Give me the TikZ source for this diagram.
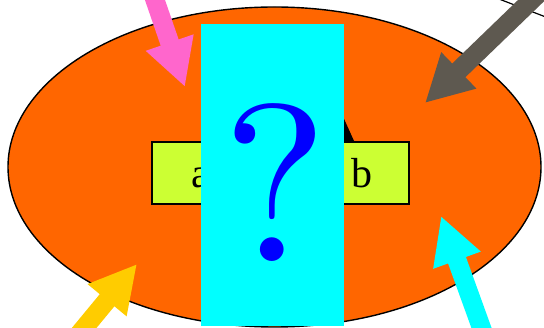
\documentclass[tikz,border=0pt]{standalone}
\usepackage{fontspec}
\setmainfont{Liberation Serif}
\newfontfamily\lmfont{lmroman10-regular}[Extension=.otf]
\usepackage{tikz}
\usepackage{xcolor}
\usetikzlibrary{arrows.meta, positioning, shapes.geometric}
\definecolor{blobfill}{HTML}{FF6600}
\definecolor{pairfill}{HTML}{CCFF33}
\definecolor{mysteryfill}{HTML}{00FFFF}
\definecolor{qmark}{HTML}{0000FF}
\definecolor{pinkin}{HTML}{FF66CC}
\definecolor{greyin}{HTML}{5E5950}
\definecolor{goldin}{HTML}{FFCC00}
\tikzset{
  blob/.style={
    ellipse, fill=blobfill, draw=black, line width=1.4pt,
    minimum width=533pt, minimum height=320pt, inner sep=0pt
  },
  pairbox/.style={
    rectangle, fill=pairfill, draw=black, line width=1.4pt,
    minimum width=257pt, minimum height=62pt, inner sep=0pt
  },
  mystery/.style={
    rectangle, fill=mysteryfill, minimum width=143pt, minimum height=302pt,
    inner sep=0pt
  },
  letter/.style={font=\fontsize{42}{42}\selectfont, inner sep=0pt, anchor=base},
  fatarrow/.style={line width=19pt, color=#1,
    -{Triangle[length=47pt, width=47pt]}}
}

\begin{document}
\begin{tikzpicture}[x=1pt, y=-1pt]
    \useasboundingbox (0,0) rectangle (544,328);
    \clip (0,0) rectangle (544,328);

    % Ellipse and its thin neighbour line
    \node[blob] (body) at (274.5,167) {};
    \coordinate (wireA) at (460,-16);
    \coordinate (wireB) at (590,34);
    \draw[line width=1.2pt] (wireA) -- (wireB);

    % Incoming arrows
    \coordinate (pinkS) at (136,-55);
    \coordinate (pinkT) at (185,87);
    \coordinate (greyS) at (569,-36);
    \coordinate (greyT) at (425,103);
    \coordinate (goldS) at (61,356);
    \coordinate (goldT) at (137,264);
    \coordinate (cyanS) at (492,357);
    \coordinate (cyanT) at (441,216);
    \draw[fatarrow=pinkin] (pinkS) -- (pinkT);
    \draw[fatarrow=greyin] (greyS) -- (greyT);
    \draw[fatarrow=goldin] (goldS) -- (goldT);
    \draw[fatarrow=mysteryfill] (cyanS) -- (cyanT);

    % Hidden edge and the a/b box
    \coordinate (low) at (343,208);
    \coordinate (high) at (340,110);
    \draw[line width=1.4pt, -{Triangle[length=34pt, width=28pt]}] (low) -- (high);
    \node[pairbox] (pair) at (280.5,173) {};
    \node[letter] (a) at (201,188) {a};
    \node[letter] (b) at (362,188) {b};

    % Cover with question mark
    \node[mystery] (cover) at (272.5,175) {};
    \node[font=\lmfont\fontsize{224}{224}\selectfont, text=qmark, inner sep=0pt,
      anchor=base] (q) at (275,262) {?};
\end{tikzpicture}
\end{document}
